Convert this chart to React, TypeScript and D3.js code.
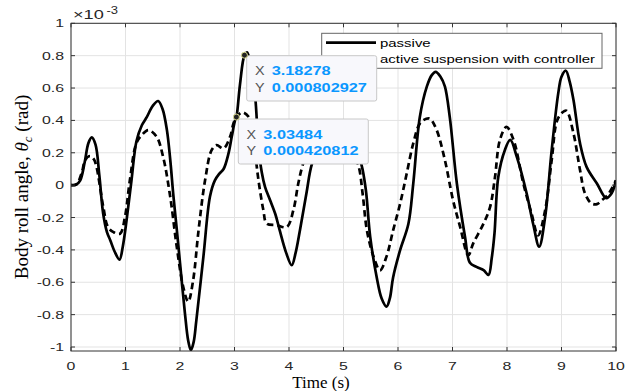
import React from "react";
import * as d3 from "d3";

const passiveT = [0, 0.1, 0.17, 0.25, 0.32, 0.38, 0.45, 0.52, 0.59, 0.66, 0.72, 0.8, 0.89, 0.95, 1.02, 1.11, 1.2, 1.3, 1.39, 1.5, 1.6, 1.68, 1.76, 1.82, 1.88, 1.94, 2.0, 2.09, 2.15, 2.2, 2.25, 2.3, 2.43, 2.55, 2.64, 2.72, 2.8, 2.89, 2.95, 3.01, 3.035, 3.1, 3.183, 3.23, 3.3, 3.38, 3.44, 3.5, 3.56, 3.65, 3.75, 3.83, 3.95, 4.05, 4.12, 4.2, 4.32, 4.42, 4.6, 4.75, 4.85, 4.95, 5.05, 5.2, 5.33, 5.41, 5.49, 5.61, 5.7, 5.79, 5.85, 5.91, 6.04, 6.19, 6.28, 6.4, 6.53, 6.62, 6.69, 6.78, 6.86, 6.95, 7.08, 7.23, 7.32, 7.44, 7.57, 7.66, 7.72, 7.77, 7.84, 7.96, 8.06, 8.18, 8.36, 8.48, 8.59, 8.7, 8.82, 8.94, 9.0, 9.08, 9.15, 9.22, 9.34, 9.46, 9.65, 9.82, 9.92, 10];
const passiveV = [0, 0.005, 0.03, 0.14, 0.26, 0.295, 0.25, 0.06, -0.175, -0.29, -0.34, -0.41, -0.46, -0.38, -0.216, 0.03, 0.27, 0.37, 0.42, 0.49, 0.52, 0.47, 0.34, 0.16, -0.07, -0.27, -0.48, -0.79, -0.96, -1.02, -0.97, -0.835, -0.44, -0.07, 0.03, 0.07, 0.1, 0.196, 0.3, 0.4, 0.42, 0.62, 0.803, 0.82, 0.74, 0.546, 0.237, 0.08, -0.01, -0.09, -0.18, -0.28, -0.42, -0.495, -0.42, -0.28, -0.05, 0.13, 0.27, 0.35, 0.37, 0.36, 0.32, 0.24, 0.125, -0.03, -0.32, -0.57, -0.7, -0.75, -0.7, -0.57, -0.4, -0.24, 0.01, 0.42, 0.61, 0.68, 0.7, 0.67, 0.61, 0.42, 0.01, -0.32, -0.48, -0.505, -0.525, -0.555, -0.45, -0.3, 0.05, 0.216, 0.28, 0.175, -0.05, -0.24, -0.38, -0.196, 0.216, 0.567, 0.67, 0.707, 0.64, 0.526, 0.258, 0.113, 0.01, -0.08, -0.05, 0.03];

const activeT = [0, 0.1, 0.2, 0.26, 0.35, 0.42, 0.47, 0.59, 0.68, 0.78, 0.9, 0.99, 1.08, 1.2, 1.3, 1.42, 1.57, 1.69, 1.82, 1.94, 2.06, 2.15, 2.24, 2.34, 2.46, 2.58, 2.67, 2.8, 2.92, 2.98, 3.035, 3.15, 3.3, 3.38, 3.44, 3.53, 3.59, 3.77, 3.96, 4.08, 4.17, 4.26, 4.4, 4.6, 4.8, 4.95, 5.1, 5.27, 5.35, 5.43, 5.55, 5.67, 5.79, 5.91, 6.04, 6.16, 6.28, 6.4, 6.52, 6.59, 6.71, 6.86, 7.01, 7.14, 7.29, 7.38, 7.57, 7.69, 7.78, 7.87, 7.99, 8.12, 8.3, 8.45, 8.57, 8.7, 8.82, 8.92, 9.02, 9.09, 9.22, 9.34, 9.43, 9.55, 9.65, 9.75, 9.85, 10];
const activeV = [0, 0.005, 0.08, 0.155, 0.18, 0.16, 0.11, -0.13, -0.26, -0.29, -0.3, -0.196, 0.03, 0.26, 0.31, 0.34, 0.3, 0.175, -0.07, -0.38, -0.63, -0.72, -0.59, -0.28, 0.03, 0.216, 0.247, 0.227, 0.3, 0.38, 0.42, 0.45, 0.4, 0.196, 0.03, -0.155, -0.237, -0.247, -0.258, -0.155, 0.01, 0.134, 0.25, 0.32, 0.3, 0.29, 0.24, 0.125, -0.05, -0.28, -0.44, -0.526, -0.44, -0.28, -0.113, 0.072, 0.258, 0.38, 0.41, 0.41, 0.34, 0.155, -0.093, -0.258, -0.433, -0.36, -0.237, -0.134, 0.05, 0.28, 0.36, 0.28, 0.01, -0.175, -0.31, -0.155, 0.155, 0.4, 0.45, 0.46, 0.32, 0.093, -0.05, -0.113, -0.117, -0.09, -0.06, 0.03];

const xTicks = [0, 1, 2, 3, 4, 5, 6, 7, 8, 9, 10];
const yTicks = [-1, -0.8, -0.6, -0.4, -0.2, 0, 0.2, 0.4, 0.6, 0.8, 1];
const legendLabels = ["passive", "active suspension with controller"];
const tipX = [3.18278, 3.03484];
const tipY = [0.000802927, 0.000420812];
const tipXText = ["3.18278", "3.03484"];
const tipYText = ["0.000802927", "0.000420812"];

const SX = 1.38;
const SANS = "'Liberation Sans', Arial, Helvetica, sans-serif";
const SERIF = "'Liberation Serif', 'Times New Roman', serif";

function SText(props: any) {
  const { x, y, anchor = "start", size = 11, weight = "normal", fill = "#262626", sx = SX, children } = props;
  return (
    <g transform={`translate(${x},${y}) scale(${sx},1)`}>
      <text textAnchor={anchor} fontSize={size} fontWeight={weight} fill={fill} fontFamily={SANS}>
        {children}
      </text>
    </g>
  );
}

export default function App() {
  const W = 632, H = 391;
  const L = 71, R = 616, T = 23.3, B = 351;
  const x = d3.scaleLinear().domain([0, 10]).range([L, R]);
  const y = d3.scaleLinear().domain([-1.0247, 1]).range([B, T]);
  const line = d3
    .line<[number, number]>()
    .x((d) => x(d[0]))
    .y((d) => y(d[1]))
    .curve(d3.curveCatmullRom.alpha(0.5));
  const pData = passiveT.map((t, i) => [t, passiveV[i]] as [number, number]);
  const aData = activeT.map((t, i) => [t, activeV[i]] as [number, number]);

  const tipBoxes = [
    { bx: 246.7, by: 55.7, bw: 130, bh: 45.3, lx: 255, vx: 271.7 },
    { bx: 238.3, by: 119, bw: 130, bh: 45, lx: 246.5, vx: 263.3 },
  ];

  return (
    <svg width={W} height={H} style={{ position: "absolute", left: 0, top: 0, background: "#fff" }}>
      <rect x={0} y={0} width={W} height={H} fill="#fff" />
      <defs>
        <clipPath id="plotClip">
          <rect x={L} y={T} width={R - L} height={B - T} />
        </clipPath>
      </defs>
      {xTicks.map((t) => (
        <line key={"gx" + t} x1={x(t)} x2={x(t)} y1={T} y2={B} stroke="#e3e3e3" strokeWidth={1} />
      ))}
      {yTicks.map((t) => (
        <line key={"gy" + t} x1={L} x2={R} y1={y(t)} y2={y(t)} stroke="#e3e3e3" strokeWidth={1} />
      ))}
      <g clipPath="url(#plotClip)">
        <path d={line(aData) || ""} fill="none" stroke="#000" strokeWidth={2.7} strokeDasharray="6.5,4" />
        <path d={line(pData) || ""} fill="none" stroke="#000" strokeWidth={2.7} />
      </g>
      <rect x={L} y={T} width={R - L} height={B - T} fill="none" stroke="#333" strokeWidth={1} />
      {xTicks.map((t) => (
        <g key={"tx" + t}>
          <line x1={x(t)} x2={x(t)} y1={B} y2={B - 4} stroke="#333" />
          <line x1={x(t)} x2={x(t)} y1={T} y2={T + 4} stroke="#333" />
          <SText x={x(t)} y={370} anchor="middle" size={11.5}>{String(t)}</SText>
        </g>
      ))}
      {yTicks.map((t) => (
        <g key={"ty" + t}>
          <line x1={L} x2={L + 4} y1={y(t)} y2={y(t)} stroke="#333" />
          <line x1={R} x2={R - 4} y1={y(t)} y2={y(t)} stroke="#333" />
          <SText x={64} y={y(t) + 4} anchor="end" size={11.5}>{String(t)}</SText>
        </g>
      ))}
      <SText x={73} y={19} size={13} sx={1.4}>×10</SText>
      <SText x={106.5} y={13.5} size={10} sx={1.3}>-3</SText>
      <text x={321} y={388} textAnchor="middle" fontFamily={SERIF} fontSize={17} fill="#000">Time (s)</text>
      <g transform="translate(28,187) rotate(-90)">
        <text textAnchor="middle" fontFamily={SERIF} fontSize={19} fill="#000">
          Body roll angle, <tspan fontStyle="italic">θ</tspan>
          <tspan fontStyle="italic" fontSize={13} dy={4}>c</tspan>
          <tspan dy={-4}> (rad)</tspan>
        </text>
      </g>
      <rect x={321.7} y={33.3} width={280.3} height={35} fill="#fff" stroke="#666" strokeWidth={1} />
      <line x1={326} x2={376} y1={42.7} y2={42.7} stroke="#000" strokeWidth={2.7} />
      <SText x={380} y={47} size={11.5} sx={1.3} fill="#000">{legendLabels[0]}</SText>
      <SText x={380} y={62.5} size={11.5} sx={1.3} fill="#000">{legendLabels[1]}</SText>
      {tipBoxes.map((b, i) => (
        <g key={"tip" + i}>
          <rect x={b.bx} y={b.by} width={b.bw} height={b.bh} rx={2} fill="#f8f8fc" stroke="#c8c8c8" strokeWidth={1} />
          <SText x={b.lx} y={b.by + 19.5} size={12} sx={1.2} fill="#555">X</SText>
          <SText x={b.vx} y={b.by + 19.5} size={12} sx={1.36} weight="bold" fill="#0a97ff">{tipXText[i]}</SText>
          <SText x={b.lx} y={b.by + 36} size={12} sx={1.2} fill="#555">Y</SText>
          <SText x={b.vx} y={b.by + 36} size={12} sx={1.36} weight="bold" fill="#0a97ff">{tipYText[i]}</SText>
        </g>
      ))}
      {tipX.map((t, i) => (
        <circle key={"dot" + i} cx={x(t)} cy={y(tipY[i] * 1000)} r={3} fill="#222" stroke="#d8d890" strokeWidth={1} />
      ))}
    </svg>
  );
}
